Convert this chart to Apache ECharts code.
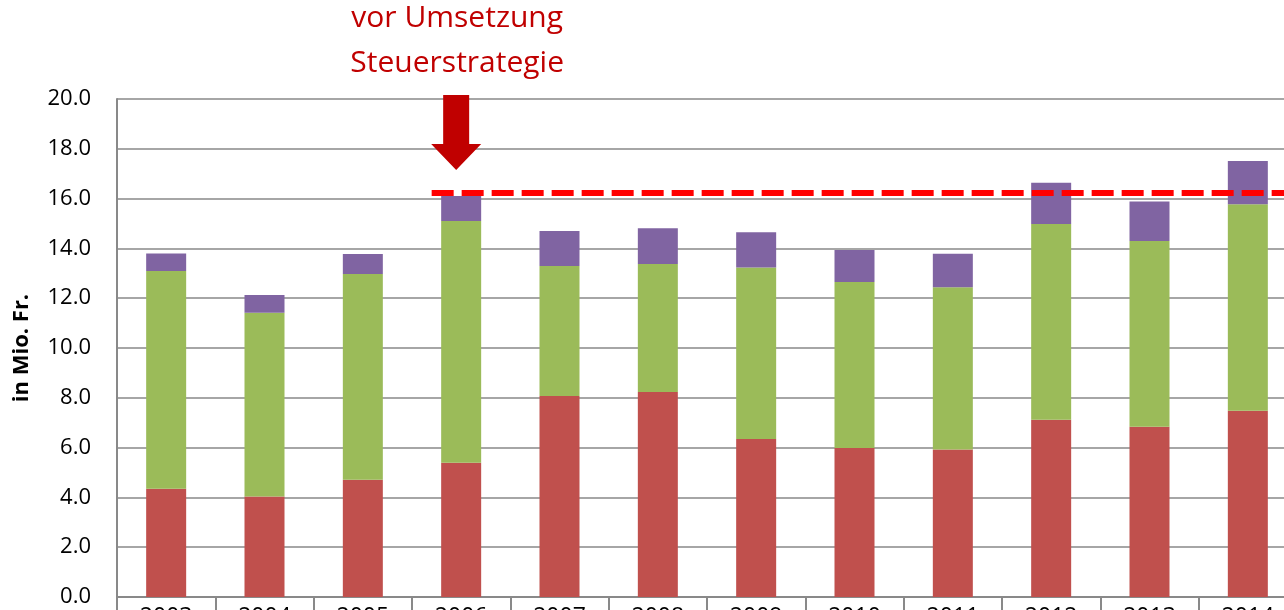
<!DOCTYPE html>
<html>
<head>
<meta charset="utf-8">
<script src="https://cdn.jsdelivr.net/npm/echarts@6/dist/echarts.min.js"></script>
<style>
html,body{margin:0;padding:0;background:#fff;}
#chart{width:1284px;height:610px;}
</style>
</head>
<body>
<div id="chart"></div>
<script>
const years = ['2003','2004','2005','2006','2007','2008','2009','2010','2011','2012','2013','2014'];
const redValues = [4.35, 4.04, 4.71, 5.39, 8.07, 8.23, 6.35, 5.98, 5.92, 7.12, 6.84, 7.48];
const greenValues = [8.74, 7.38, 8.26, 9.71, 5.22, 5.14, 6.88, 6.67, 6.52, 7.86, 7.46, 8.29];
const purpleValues = [0.71, 0.71, 0.81, 1.00, 1.41, 1.44, 1.42, 1.29, 1.35, 1.66, 1.58, 1.74];
const thresholdLine = [[3.2, 16.22], [11.95, 16.22]];
const yTicks = { min: 0, max: 20, interval: 2 };
const annotationLines = ['vor Umsetzung', 'Steuerstrategie'];
const arrowAt = { x: 3.5, tipY: 17.15, topY: 20.16 };

(function () {
const FONT = '"Open Sans", "Noto Sans", sans-serif';
const chart = echarts.init(document.getElementById('chart'), null, { renderer: 'canvas' });

const barBase = { type: 'bar', stack: 'total', barWidth: 40, xAxisIndex: 0, yAxisIndex: 0 };

chart.setOption({
  animation: false,
  backgroundColor: '#ffffff',
  grid: { left: 117, top: 99, width: 1180, height: 498, containLabel: false, outerBoundsMode: 'none' },
  xAxis: [
    {
      type: 'category', data: years, boundaryGap: true,
      axisLine: { show: true, lineStyle: { color: '#898989', width: 2 } },
      axisTick: { show: true, alignWithLabel: false, length: 16, lineStyle: { color: '#898989', width: 2 } },
      axisLabel: { color: '#000', fontSize: 23, fontFamily: FONT, margin: 9, interval: 0 },
      splitLine: { show: false }
    },
    { type: 'value', min: 0, max: 12, show: false }
  ],
  yAxis: {
    type: 'value', min: yTicks.min, max: yTicks.max, interval: yTicks.interval,
    name: 'in Mio. Fr.', nameLocation: 'middle', nameGap: 84,
    nameTextStyle: { fontSize: 22, fontWeight: 'bold', color: '#000', fontFamily: FONT },
    axisLine: { show: true, lineStyle: { color: '#898989', width: 2 } },
    axisTick: { show: false },
    axisLabel: { color: '#000', fontSize: 22, fontFamily: FONT, margin: 26, formatter: v => v.toFixed(1) },
    splitLine: { show: true, lineStyle: { color: '#898989', width: 1.5 } }
  },
  series: [
    Object.assign({ name: 'rot', data: redValues, itemStyle: { color: '#C0504D' } }, barBase),
    Object.assign({ name: 'grün', data: greenValues, itemStyle: { color: '#9BBB59' } }, barBase),
    Object.assign({ name: 'violett', data: purpleValues, itemStyle: { color: '#8064A2' } }, barBase),
    {
      type: 'line', xAxisIndex: 1, yAxisIndex: 0, data: thresholdLine, symbol: 'none', z: 10,
      lineStyle: { color: '#FF0000', width: 6, type: [22, 8] }
    }
  ]
});

const tip = chart.convertToPixel({ xAxisIndex: 1, yAxisIndex: 0 }, [arrowAt.x, arrowAt.tipY]);
const shaftTop = chart.convertToPixel({ xAxisIndex: 1, yAxisIndex: 0 }, [arrowAt.x, arrowAt.topY]);
const cx = tip[0] - 5;
const shaftHalf = 13, headHalf = 25, headLen = 26;
chart.setOption({
  graphic: [
    {
      type: 'polygon', z: 100,
      shape: { points: [
        [cx - shaftHalf, shaftTop[1]], [cx + shaftHalf, shaftTop[1]], [cx + shaftHalf, tip[1] - headLen],
        [cx + headHalf, tip[1] - headLen], [cx, tip[1]], [cx - headHalf, tip[1] - headLen],
        [cx - shaftHalf, tip[1] - headLen]
      ] },
      style: { fill: '#C00000' }
    },
    {
      type: 'text', z: 100, x: cx + 1, y: 18,
      style: { text: annotationLines[0], fill: '#C00000', font: '30px ' + FONT, align: 'center', verticalAlign: 'middle' }
    },
    {
      type: 'text', z: 100, x: cx + 1, y: 63,
      style: { text: annotationLines[1], fill: '#C00000', font: '30px ' + FONT, align: 'center', verticalAlign: 'middle' }
    }
  ]
});
})();
</script>
</body>
</html>
